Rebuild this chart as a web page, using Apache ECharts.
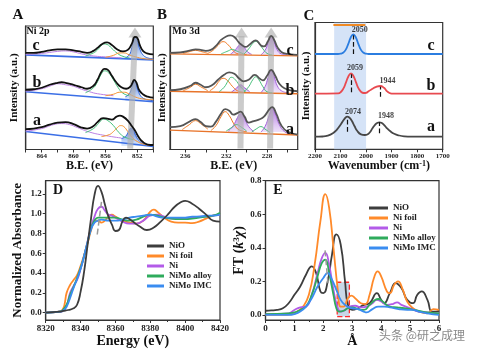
<!DOCTYPE html>
<html>
<head>
<meta charset="utf-8">
<script src="https://cdn.jsdelivr.net/npm/echarts@6/dist/echarts.min.js"></script>
<style>
  html, body { margin: 0; padding: 0; background: #fff; }
  #chart { width: 477px; height: 354px; }
</style>
</head>
<body>
<div id="chart"></div>
<script>
const serif = '"Liberation Serif", "DejaVu Serif", serif';

// ---------- A: Ni 2p XPS, [B.E., intensity], samples a (bottom) .. c (top) ----------
const niC_total = [[866,97],[865,97],[864,98],[863,99.5],[862,100.5],[861,100.5],[860,99.5],[859,98],[858.3,97],[857.5,99],[857,102],[856.4,106],[855.8,107.5],[855.2,105],[854.6,101],[853.8,98.5],[853.2,100],[852.7,106],[852.3,113],[852,112],[851.7,105],[851.3,99],[850.8,96.5],[850,95.5]];
const niC_base = [[866,95],[850,90]];
const niC_sat = [[866,95.5],[864,96.5],[862,98.5],[861,99],[860,98],[859,96],[858,94.5],[857,93.5],[856,93],[854,92]];
const niC_green = [[858.5,94],[857.5,97],[857,100],[856.5,104.5],[856.2,106],[855.8,105.5],[855.2,101.5],[854.5,96.5],[853.8,93.5],[853,92]];
const niC_orange = [[856,92.5],[855,94.5],[854.2,97],[853.7,97],[853,95],[852,92.5],[851,91],[850,90.5]];
const niC_metal = [[853.5,92],[853,95],[852.7,102],[852.5,108],[852.3,113],[852.1,111],[851.9,106],[851.6,99],[851.3,95],[851,93],[850.5,91.5],[850,91]];

const niB_total = [[866,60],[865,60.5],[864,62],[863,65],[862,67],[861.5,67.5],[861,67],[860,65],[859,62.5],[858.3,61],[857.5,64],[857,70],[856.5,78],[856.1,81],[855.7,80],[855.2,74],[854.6,67],[854,62.5],[853.4,61],[852.9,63],[852.6,67],[852.4,70],[852.1,67],[851.8,60],[851.3,55.5],[850.7,53],[850,52]];
const niB_base = [[866,58],[850,48]];
const niB_sat = [[866,58.5],[864,61],[862.5,65],[862,66],[861,65],[860,63.5],[859,60.5],[858,58],[857,56],[855,54]];
const niB_green = [[858.5,57],[857.5,62],[857,68],[856.5,76],[856.1,79],[855.6,77],[855,70],[854.4,62],[853.8,56.5],[853,54]];
const niB_orange = [[856,54],[855,55.5],[854.2,57.5],[853.6,57.5],[853,55.5],[852,52],[851,50.5],[850,50]];
const niB_metal = [[853.5,53],[853,56],[852.7,62],[852.4,69],[852.15,66],[851.9,59],[851.5,53],[851,50.5],[850.5,49.5],[850,49]];

const niA_total = [[866,20.5],[865,21],[864,22.5],[863,25],[862,27],[861,27.5],[860,25.5],[859,22],[858.3,21],[857.5,23.5],[857,27.5],[856.3,31.5],[855.8,31],[855.2,30],[854.6,33],[854.2,34],[853.8,33],[853.2,29],[852.7,23.5],[852.3,19],[851.8,12],[851.3,7.5],[850.7,5],[850,4.5]];
const niA_base = [[866,18],[850,3]];
const niA_sat = [[866,18.5],[864,21],[862.5,25],[861.5,26],[860.5,25],[859.5,22],[858,17.5],[856,14],[854,11.5]];
const niA_green = [[858.5,17],[857.5,21],[857,25],[856.5,29.5],[856.2,30.5],[855.7,29],[855,24],[854.3,17],[853.6,12.5],[852.5,10]];
const niA_orange = [[856.5,13],[855.5,15],[855,18],[854.5,22],[854.1,24],[853.7,23],[853.2,18],[852.7,12.5],[852,8],[851,5],[850,4]];
const niA_metal = [[854,11],[853.5,13],[853.1,18],[852.8,21.5],[852.5,19.5],[852.2,14],[851.8,9],[851.3,6],[850.5,4],[850,3.5]];

// ---------- B: Mo 3d XPS ----------
const moC_total = [[237.5,97],[236.5,97.5],[235.5,99.5],[235,100.5],[234.5,100],[234,99],[233.5,100],[233,104],[232.5,110],[232,113.5],[231.6,114.5],[231.2,113],[230.8,108],[230.6,106],[230.1,103],[229.7,105.5],[229.1,109.5],[228.6,104.5],[228.3,103.5],[227.9,109],[227.6,114],[227.3,110],[227,103],[226.6,98],[226,96],[225,95]];
const moC_base = [[237.5,96],[225,94]];
const moC_or1 = [[236.2,96.5],[235.5,98.5],[235,99.5],[234.5,98.5],[233.8,96.5]];
const moC_or2 = [[233.8,96.5],[233.3,99.5],[232.8,104.5],[232.3,108.3],[231.8,105],[231.3,99],[230.8,96],[230,95.5]];
const moC_gr1 = [[232.5,96],[231.8,99],[231.4,100.5],[231,99],[230.3,96]];
const moC_gr2 = [[230.3,95.5],[229.8,101],[229.4,106.5],[229.1,108.5],[228.8,106.5],[228.4,101],[228,96.5],[227.5,95]];
const moC_pu1 = [[231.6,95.5],[231.2,99],[230.8,104],[230.6,106],[230.3,103.5],[229.9,98],[229.5,95.5]];
const moC_pu2 = [[228.6,95],[228.2,99.5],[227.9,107],[227.6,113.3],[227.3,108],[227,100],[226.6,96],[226,95]];

const moB_total = [[237.5,59.5],[236.5,60.5],[235.5,64],[235,67],[234.5,65],[234,62.5],[233.4,64.5],[232.8,70],[232.2,75],[231.7,77.5],[231.2,76],[230.7,71],[230.3,68.5],[229.8,70],[229.2,75],[228.7,71],[228.4,69.5],[228,74],[227.6,80],[227.2,74],[226.8,66],[226.3,61.5],[225.5,59],[225,58.5]];
const moB_base = [[237.5,58.5],[225,56]];
const moB_or1 = [[236.2,59],[235.5,62.5],[235,65.5],[234.5,63],[233.8,59]];
const moB_or2 = [[233.6,59],[233.1,63],[232.7,68.5],[232.3,71.5],[231.9,69.5],[231.4,63.5],[230.9,59],[230.3,57.5]];
const moB_gr1 = [[232.7,58],[232.2,62.5],[231.8,69],[231.5,72.5],[231.1,70],[230.6,63],[230.1,58]];
const moB_gr2 = [[230.3,57.5],[229.8,63],[229.4,70],[229.1,73],[228.8,70],[228.4,63],[228,58],[227.5,57]];
const moB_pu1 = [[231.5,57.5],[231,61.5],[230.6,65],[230.2,62],[229.7,58]];
const moB_pu2 = [[228.6,57],[228.2,63],[227.9,72],[227.6,79.5],[227.3,73],[227,64],[226.6,59],[226,57]];

const moA_total = [[237.5,22.5],[236.5,23.5],[235.5,28.5],[235,30.5],[234.5,27.5],[234,23.5],[233.5,23],[233,28],[232.5,36],[232.1,40.5],[231.7,39],[231.3,35],[230.9,36.5],[230.6,38],[230.2,33],[229.8,27],[229.3,28.5],[228.8,30],[228.3,33],[227.8,40],[227.5,42.5],[227.1,36],[226.6,24],[226,18],[225,15]];
const moA_base = [[237.5,19.5],[225,14.5]];
const moA_or1 = [[236.3,20],[235.6,25],[235,29],[234.5,26],[233.8,20.5]];
const moA_or2 = [[233.5,19],[233,24],[232.5,33],[232.1,38],[231.7,34],[231.2,25],[230.7,19.5],[230,18]];
const moA_gr1 = [[232,18.5],[231.4,22.5],[231,25],[230.6,23],[230,18.5]];
const moA_gr2 = [[229.5,17.5],[229,21],[228.6,23],[228.2,20.5],[227.7,17]];
const moA_pu1 = [[231.8,18.5],[231.3,24],[230.9,32],[230.6,36],[230.2,31],[229.8,23],[229.3,18]];
const moA_pu2 = [[228.6,17.5],[228.2,23],[227.8,34],[227.5,41.5],[227.2,36],[226.8,25],[226.3,18],[225.8,16]];

// ---------- C: IR, [wavenumber, intensity] ----------
const irC = [[2200,95.3],[2110,95.3],[2100,95.6],[2090,96.5],[2080,99.4],[2070,105.2],[2060,111.8],[2050,115],[2040,111.8],[2030,105.2],[2020,99.4],[2010,96.5],[2000,95.6],[1990,95.3],[1700,95.3]];
const irB = [[2200,55.6],[2109,56],[2099,57.3],[2089,60.7],[2079,66.6],[2069,73.1],[2059,76],[2049,73.1],[2039,66.6],[2029,60.7],[2019,57.3],[2009,56.3],[2000,56.5],[1990,58],[1975,60.5],[1960,62.5],[1944,63.3],[1930,61.5],[1920,58.5],[1910,56.5],[1900,55.7],[1700,55.6]];
const irA = [[2200,12.6],[2170,12.8],[2150,13.6],[2130,16],[2115,19.5],[2100,24.5],[2090,28.5],[2080,31.8],[2074,32.6],[2066,31.8],[2056,28.5],[2045,23],[2035,18.5],[2020,15],[2005,14.3],[1995,14.8],[1985,17],[1975,21],[1965,24.5],[1955,26.6],[1948,27],[1940,26.5],[1930,24.5],[1920,21.5],[1905,18],[1890,15.5],[1870,13.8],[1850,13],[1820,12.7],[1700,12.6]];
const irPeakLabels = [[2025,119.3,'2050'],[2043,81.6,'2059'],[1916,68.3,'1944'],[2051,37.6,'2074'],[1922,33.6,'1948']];

// ---------- D: Ni K-edge XANES ----------
const xanesNames = ['NiO','Ni foil','Ni','NiMo alloy','NiMo IMC'];
const xanesNiO = [[8320,0],[8328,0.01],[8330,0.017],[8333,0.027],[8336,0.044],[8338,0.08],[8340,0.21],[8342,0.41],[8344,0.68],[8346,0.95],[8348,1.19],[8350,1.28],[8352,1.22],[8354,1.09],[8356,0.97],[8358,0.89],[8360,0.825],[8362,0.835],[8364,0.92],[8366,0.96],[8368,0.946],[8370,0.92],[8374,0.87],[8378,0.835],[8382,0.86],[8386,0.92],[8390,0.99],[8394,1.07],[8398,1.12],[8400,1.13],[8404,1.1],[8408,1.05],[8412,0.99],[8416,0.93],[8420,0.92]];
const xanesFoil = [[8320,0],[8328,0.01],[8330,0.04],[8331,0.1],[8332,0.2],[8334,0.28],[8336,0.33],[8338,0.38],[8340,0.47],[8342,0.58],[8344,0.7],[8346,0.83],[8348,0.92],[8350,0.93],[8352,0.91],[8354,0.93],[8356,0.97],[8358,0.99],[8360,0.97],[8364,0.93],[8368,0.91],[8372,0.9],[8376,0.93],[8380,1.02],[8382,1.04],[8384,1.02],[8388,0.96],[8392,0.92],[8396,0.91],[8400,0.91],[8404,0.905],[8408,0.92],[8412,0.95],[8416,0.98],[8420,0.99]];
const xanesNi = [[8320,0],[8328,0.01],[8330,0.02],[8332,0.07],[8334,0.2],[8336,0.27],[8338,0.33],[8340,0.44],[8342,0.57],[8344,0.72],[8346,0.86],[8348,0.97],[8350,1.05],[8352,1.07],[8354,1.03],[8356,0.99],[8358,0.98],[8360,0.96],[8364,0.92],[8368,0.9],[8372,0.9],[8376,0.93],[8380,0.98],[8384,0.99],[8388,0.97],[8392,0.95],[8396,0.95],[8400,0.95],[8404,0.96],[8408,0.97],[8412,0.97],[8416,0.98],[8420,0.99]];
const xanesAlloy = [[8320,0],[8328,0.01],[8330,0.03],[8332,0.08],[8334,0.18],[8336,0.26],[8338,0.35],[8340,0.45],[8342,0.57],[8344,0.71],[8346,0.85],[8348,0.93],[8350,0.96],[8352,0.96],[8356,0.96],[8360,0.96],[8364,0.94],[8368,0.93],[8372,0.94],[8376,0.97],[8380,0.99],[8384,0.98],[8388,0.96],[8392,0.95],[8396,0.945],[8400,0.945],[8404,0.95],[8408,0.96],[8412,0.97],[8416,0.98],[8420,1.01]];
const xanesIMC = [[8320,0],[8328,0.01],[8330,0.02],[8332,0.06],[8334,0.15],[8336,0.25],[8338,0.34],[8340,0.44],[8342,0.57],[8344,0.71],[8346,0.84],[8348,0.91],[8350,0.93],[8352,0.94],[8356,0.93],[8360,0.93],[8364,0.94],[8368,0.96],[8372,0.97],[8376,0.98],[8380,0.99],[8384,0.97],[8388,0.96],[8392,0.96],[8396,0.96],[8400,0.96],[8404,0.97],[8408,0.97],[8412,0.98],[8416,0.98],[8420,0.99]];

// ---------- E: FT-EXAFS, [R (Å), FT] ----------
const ftNiO = [[0,0.025],[0.2,0.027],[0.4,0.03],[0.6,0.04],[0.8,0.07],[1,0.12],[1.2,0.17],[1.4,0.24],[1.6,0.29],[1.75,0.25],[1.9,0.14],[2,0.13],[2.15,0.2],[2.3,0.36],[2.45,0.48],[2.6,0.42],[2.75,0.2],[2.85,0.06],[3,0.03],[3.2,0.04],[3.4,0.06],[3.6,0.07],[3.85,0.13],[4,0.09],[4.1,0.07],[4.3,0.13],[4.5,0.19],[4.7,0.16],[4.9,0.09],[5.1,0.07],[5.25,0.12],[5.4,0.14],[5.6,0.09],[5.75,0.02],[5.9,0.02],[6,0.025]];
const ftFoil = [[0,0],[0.6,0],[0.9,0.005],[1.1,0.02],[1.3,0.05],[1.5,0.12],[1.7,0.3],[1.9,0.56],[2.07,0.72],[2.2,0.64],[2.35,0.4],[2.5,0.15],[2.6,0.05],[2.7,0.05],[2.85,0.1],[2.97,0.115],[3.1,0.1],[3.3,0.07],[3.45,0.065],[3.6,0.12],[3.75,0.22],[3.88,0.26],[4,0.23],[4.2,0.14],[4.3,0.13],[4.45,0.18],[4.58,0.2],[4.75,0.15],[4.9,0.08],[5.1,0.04],[5.3,0.02],[5.6,0.01],[5.8,0.035],[6,0.03]];
const ftNi = [[0,0.005],[0.8,0.01],[1,0.03],[1.2,0.045],[1.4,0.05],[1.6,0.12],[1.8,0.25],[1.95,0.34],[2.07,0.37],[2.2,0.3],[2.35,0.15],[2.5,0.04],[2.6,0.02],[2.75,0.03],[2.9,0.05],[3.1,0.055],[3.3,0.045],[3.5,0.05],[3.7,0.07],[3.85,0.09],[4,0.08],[4.2,0.06],[4.4,0.065],[4.55,0.075],[4.7,0.06],[5,0.04],[5.3,0.02],[5.6,0.015],[6,0.01]];
const ftAlloy = [[0,0.005],[0.8,0.01],[1,0.015],[1.2,0.03],[1.4,0.05],[1.6,0.12],[1.8,0.23],[1.95,0.31],[2.07,0.33],[2.2,0.25],[2.35,0.12],[2.45,0.04],[2.55,0.02],[2.7,0.025],[2.85,0.04],[3,0.045],[3.2,0.035],[3.4,0.03],[3.6,0.06],[3.8,0.09],[3.9,0.095],[4.05,0.08],[4.3,0.05],[4.55,0.045],[4.8,0.04],[5,0.035],[5.3,0.025],[5.6,0.015],[6,0.01]];
const ftIMC = [[0,0],[0.8,0],[1,0.005],[1.2,0.02],[1.4,0.05],[1.6,0.1],[1.8,0.17],[2,0.22],[2.15,0.25],[2.3,0.21],[2.45,0.15],[2.6,0.09],[2.75,0.06],[2.9,0.045],[3,0.04],[3.2,0.035],[3.4,0.02],[3.5,0.015],[3.7,0.035],[3.9,0.05],[4.1,0.05],[4.3,0.045],[4.6,0.035],[4.9,0.03],[5.1,0.03],[5.3,0.02],[5.6,0.01],[6,0]];

const dyTicks = [0, 0.2, 0.4, 0.6, 0.8, 1.0, 1.2];
const eyTicks = [0, 0.2, 0.4, 0.6, 0.8];
const bxTicks = [226, 228, 230, 232, 234, 236];
const bxLabels = [228, 232, 236];

const chart = echarts.init(document.getElementById('chart'), null, { renderer: 'canvas' });

function line(name, gi, data, color, width, extra) {
  return Object.assign({
    name, type: 'line', xAxisIndex: gi, yAxisIndex: gi, data,
    smooth: 0.5, showSymbol: false, symbol: 'none', silent: true,
    lineStyle: { color, width }, itemStyle: { color }, z: 3
  }, extra || {});
}
function grad(top, bottom) {
  return new echarts.graphic.LinearGradient(0, 0, 0, 1, [
    { offset: 0, color: top }, { offset: 1, color: bottom }
  ]);
}
function fillPeak(name, gi, data, color, origin, top, bottom) {
  return line(name, gi, data, color, 1, { areaStyle: { origin, color: grad(top, bottom), opacity: 1 }, z: 2 });
}
const axisLineStyle = { color: '#333', width: 1.2 };
const plain = v => String(v);
const smallLabel = { fontSize: 7, fontWeight: 'bold', fontFamily: serif, color: '#222', margin: 3, formatter: plain };
const bigLabel = { fontSize: 9, fontWeight: 'bold', fontFamily: serif, color: '#222', margin: 4, formatter: plain };
const nameStyle = (size) => ({ fontSize: size, fontWeight: 'bold', fontFamily: serif, color: '#111' });
const arrowGray = 'rgba(175,175,175,0.65)';
// thick translucent gray arrows (drawn behind the curves): shaft + triangle head
function grayArrowSeries(name, gi, pairs) {
  return line(name, gi, [], '#aaa', 1, {
    z: 1,
    markLine: {
      silent: true, symbol: ['none', 'none'], label: { show: false },
      lineStyle: { color: arrowGray, width: 6, type: 'solid' },
      data: pairs.map(p => [{ coord: p[0] }, { coord: p[1] }])
    },
    markPoint: {
      silent: true, symbol: 'triangle', symbolSize: [13, 10], label: { show: false },
      itemStyle: { color: arrowGray },
      data: pairs.map(p => ({ coord: [p[1][0], p[1][1] + 3.5] }))
    }
  });
}
const dashArrow = (from, to) => ({
  silent: true, symbol: ['none', 'arrow'], symbolSize: [0, 6], label: { show: false },
  lineStyle: { color: '#9a9a9a', width: 1.5, type: 'dashed' },
  data: [[{ coord: from }, { coord: to }]]
});
const vDash = (x, y0, y1) => [{ coord: [x, y0] }, { coord: [x, y1] }];

const series = [];
// A
series.push(grayArrowSeries('niArrow', 0, [[[852.9, 1], [852.3, 114]]]));
[[niA_total, niA_base, niA_sat, niA_green, niA_orange, niA_metal, 3.5],
 [niB_total, niB_base, niB_sat, niB_green, niB_orange, niB_metal, 49],
 [niC_total, niC_base, niC_sat, niC_green, niC_orange, niC_metal, 91]].forEach((s, i) => {
  series.push(line('niBase' + i, 0, s[1], '#3b6fe6', 1.6));
  series.push(fillPeak('niMetal' + i, 0, s[5], '#2d62d8', s[6], 'rgba(35,85,215,0.85)', 'rgba(140,180,240,0.3)'));
  series.push(line('niSat' + i, 0, s[2], '#bb7fe3', 1));
  series.push(line('niGreen' + i, 0, s[3], '#43c27a', 1));
  series.push(line('niOrange' + i, 0, s[4], '#f5922f', 1));
  series.push(line('niTotal' + i, 0, s[0], '#111', 1.8, { z: 5 }));
});

// B
series.push(grayArrowSeries('moArrow', 1, [[[230.6, 1], [230.5, 114]], [[227.7, 1], [227.6, 114]]]));
[[moA_total, moA_base, moA_or1, moA_or2, moA_gr1, moA_gr2, moA_pu1, moA_pu2, 17.5],
 [moB_total, moB_base, moB_or1, moB_or2, moB_gr1, moB_gr2, moB_pu1, moB_pu2, 57],
 [moC_total, moC_base, moC_or1, moC_or2, moC_gr1, moC_gr2, moC_pu1, moC_pu2, 95]].forEach((s, i) => {
  series.push(fillPeak('moPu1' + i, 1, s[6], '#a463dc', s[8], 'rgba(160,90,215,0.85)', 'rgba(205,165,240,0.3)'));
  series.push(fillPeak('moPu2' + i, 1, s[7], '#a463dc', s[8], 'rgba(160,90,215,0.85)', 'rgba(205,165,240,0.3)'));
  series.push(line('moBase' + i, 1, s[1], '#e8742a', 1.4));
  series.push(line('moOr1' + i, 1, s[2], '#f07a22', 1));
  series.push(line('moOr2' + i, 1, s[3], '#f07a22', 1));
  series.push(line('moGr1' + i, 1, s[4], '#47c07a', 1));
  series.push(line('moGr2' + i, 1, s[5], '#47c07a', 1));
  series.push(line('moTotal' + i, 1, s[0], '#555', 1.8, { z: 5 }));
});

// C
const dashStyle = { color: '#111', width: 1.2, type: 'dashed' };
series.push(line('irC', 2, irC, '#2b7de0', 1.8, {
  markArea: { silent: true, itemStyle: { color: 'rgba(190,212,243,0.65)' }, data: [[{ xAxis: 2125 }, { xAxis: 2000 }]] },
  markLine: { silent: true, symbol: ['none', 'none'], label: { show: false }, lineStyle: dashStyle, data: [vDash(2050, 95.3, 114)] }
}));
series.push(line('irArrow', 2, [], '#f08a24', 2, {
  markLine: {
    silent: true, symbol: ['none', 'triangle'], symbolSize: [0, 7], label: { show: false },
    lineStyle: { color: '#f08a24', width: 2, type: 'solid' },
    data: [[{ coord: [2128, 124.3] }, { coord: [2003, 124.3] }]]
  }
}));
series.push(line('irB', 2, irB, '#e84a50', 1.8, {
  markLine: { silent: true, symbol: ['none', 'none'], label: { show: false }, lineStyle: dashStyle,
    data: [vDash(2059, 57, 75), vDash(1944, 52.6, 62.6)] }
}));
series.push(line('irA', 2, irA, '#474747', 1.8, {
  markLine: { silent: true, symbol: ['none', 'none'], label: { show: false }, lineStyle: dashStyle,
    data: [vDash(2074, 17.6, 31.6), vDash(1948, 16, 27)] }
}));
series.push({
  type: 'scatter', xAxisIndex: 2, yAxisIndex: 2, data: irPeakLabels, symbolSize: 0, silent: true,
  label: { show: true, position: 'inside', formatter: p => p.data[2], fontSize: 8, fontWeight: 'bold', fontFamily: serif, color: '#111' }
});

// D
const xColors = ['#3d3d3d', '#ff8a2a', '#b35be8', '#2fab5c', '#3a8cf0'];
[xanesNiO, xanesFoil, xanesNi, xanesAlloy, xanesIMC].forEach((d, i) => {
  series.push(line(xanesNames[i], 3, d, xColors[i], 1.8, { z: i === 0 ? 4 : 3 }));
});
series[series.length - 5].markLine = dashArrow([8352, 1.12], [8349.5, 0.78]);

// E
[ftNiO, ftFoil, ftNi, ftAlloy, ftIMC].forEach((d, i) => {
  series.push(line(xanesNames[i], 4, d, xColors[i], 1.8));
});
series[series.length - 5].markArea = {
  silent: true,
  itemStyle: { color: 'rgba(165,188,215,0.6)', borderColor: '#ff2a2a', borderWidth: 1.3, borderType: 'dashed' },
  data: [[{ coord: [2.48, -0.01] }, { coord: [2.9, 0.195] }]]
};
series[series.length - 5].markLine = dashArrow([2.06, 0.385], [2.17, 0.17]);

const grids = [
  { left: 25.7, top: 26, width: 127.6, height: 123.5 },
  { left: 170, top: 26, width: 127.7, height: 123.5 },
  { left: 315, top: 22.5, width: 127.7, height: 126.8 },
  { left: 45.7, top: 180.7, width: 174.3, height: 139.3 },
  { left: 265.5, top: 180.7, width: 173.5, height: 139.3 }
].map(g => Object.assign({ show: true, borderColor: '#333', borderWidth: 1.2, backgroundColor: 'transparent' }, g));

const xAxis = [
  { gridIndex: 0, min: 850, max: 866, interval: 2, inverse: true,
    axisLabel: Object.assign({}, smallLabel, { formatter: v => (v % 4 === 0 ? String(v) : '') }),
    name: 'B.E. (eV)', nameGap: 10, nameTextStyle: nameStyle(12) },
  { gridIndex: 1, min: 225, max: 237.5, inverse: true,
    axisTick: { customValues: bxTicks, length: 3, lineStyle: { color: '#333' } },
    axisLabel: Object.assign({ customValues: bxLabels }, smallLabel),
    name: 'B.E. (eV)', nameGap: 10, nameTextStyle: nameStyle(12) },
  { gridIndex: 2, min: 1700, max: 2200, interval: 100, inverse: true,
    axisLabel: smallLabel,
    name: 'Wavenumber (cm{s|-1})', nameGap: 10,
    nameTextStyle: Object.assign(nameStyle(12), { rich: { s: { fontSize: 8, fontWeight: 'bold', fontFamily: serif, verticalAlign: 'top', color: '#111' } } }) },
  { gridIndex: 3, min: 8320, max: 8420, interval: 20,
    minorTick: { show: true, splitNumber: 2, length: 2, lineStyle: { color: '#333' } },
    axisLabel: bigLabel,
    name: 'Energy (eV)', nameGap: 13, nameTextStyle: nameStyle(14) },
  { gridIndex: 4, min: 0, max: 6, interval: 1,
    minorTick: { show: true, splitNumber: 2, length: 2, lineStyle: { color: '#333' } },
    axisLabel: bigLabel,
    name: 'Å', nameGap: 10, nameTextStyle: nameStyle(14) }
].map(a => Object.assign({
  type: 'value', nameLocation: 'middle',
  axisLine: { onZero: false, lineStyle: axisLineStyle },
  axisTick: { length: 3, lineStyle: { color: '#333' } },
  splitLine: { show: false }
}, a));

const yAxis = [
  { gridIndex: 0, min: 0, max: 124, name: 'Intensity (a.u.)', nameGap: 6, nameTextStyle: nameStyle(11),
    axisLabel: { show: false }, axisTick: { show: false } },
  { gridIndex: 1, min: 0, max: 124, name: 'Intensity (a.u.)', nameGap: 2, nameTextStyle: nameStyle(11),
    axisLabel: { show: false }, axisTick: { show: false } },
  { gridIndex: 2, min: 0, max: 126.8, name: 'Intensity (a.u.)', nameGap: 3, nameTextStyle: nameStyle(11),
    axisLabel: { show: false }, axisTick: { show: false } },
  { gridIndex: 3, min: -0.074, max: 1.333,
    axisTick: { customValues: dyTicks, length: 3, lineStyle: { color: '#333' } },
    axisLabel: Object.assign({}, bigLabel, { customValues: dyTicks, formatter: v => v.toFixed(1) }),
    name: 'Normalized Absorbance', nameGap: 22, nameTextStyle: nameStyle(13) },
  { gridIndex: 4, min: -0.03, max: 0.8,
    axisTick: { customValues: eyTicks, length: 3, lineStyle: { color: '#333' } },
    axisLabel: Object.assign({}, bigLabel, { customValues: eyTicks, formatter: v => v.toFixed(1) }),
    name: 'FT ({i|k}{s|3}{i|χ})', nameGap: 17,
    nameTextStyle: Object.assign(nameStyle(14), { rich: {
      i: { fontSize: 14, fontWeight: 'bold', fontStyle: 'italic', fontFamily: serif, color: '#111' },
      s: { fontSize: 9, fontWeight: 'bold', fontFamily: serif, verticalAlign: 'top', color: '#111' } } }) }
].map(a => Object.assign({
  type: 'value', nameLocation: 'middle',
  axisLine: { onZero: false, lineStyle: axisLineStyle },
  splitLine: { show: false }
}, a));

const legendBase = {
  data: xanesNames, orient: 'vertical', icon: 'rect', itemHeight: 3, itemGap: 0,
  selectedMode: false, padding: 0,
  textStyle: { fontSize: 9, fontWeight: 'bold', fontFamily: serif, color: '#222', lineHeight: 10 }
};

const txt = (x, y, text, size, extra) => ({
  type: 'text', x, y, silent: true, z: 100,
  style: Object.assign({ text, fontSize: size, fontWeight: 'bold', fontFamily: serif, fill: '#111', align: 'center', verticalAlign: 'middle' }, extra || {})
});

chart.setOption({
  animation: false,
  backgroundColor: '#fff',
  grid: grids,
  xAxis, yAxis,
  legend: [
    Object.assign({ left: 147, top: 241, itemWidth: 17 }, legendBase),
    Object.assign({ left: 369, top: 203, itemWidth: 19 }, legendBase)
  ],
  graphic: [
    txt(18, 15, 'A', 15), txt(162, 15, 'B', 15), txt(309, 16, 'C', 15),
    txt(58, 190, 'D', 14), txt(278, 190, 'E', 14),
    txt(38, 31, 'Ni 2p', 10), txt(186, 31, 'Mo 3d', 10),
    txt(36, 46, 'c', 16), txt(37, 83, 'b', 16), txt(37, 121, 'a', 16),
    txt(290, 51, 'c', 16), txt(290, 91, 'b', 16), txt(290, 130, 'a', 16),
    txt(431, 46, 'c', 16), txt(431, 86, 'b', 16), txt(431, 127, 'a', 16),
    txt(422, 335, '头条 @研之成理', 12, { fontFamily: '"Noto Sans CJK SC", sans-serif', fontWeight: 'normal', fill: '#8a8a8a' })
  ],
  series
});
</script>
</body>
</html>
